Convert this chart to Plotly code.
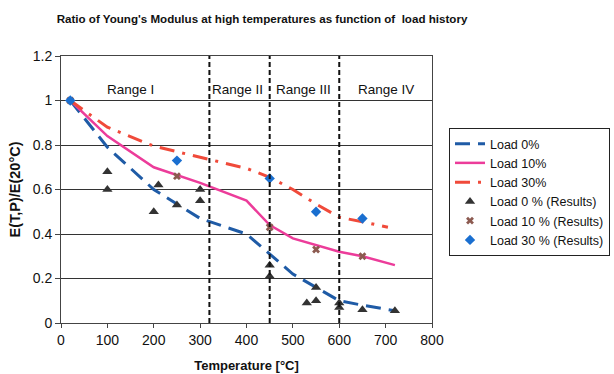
import plotly.graph_objects as go

# Model curves (temperature in °C, ratio E(T,P)/E(20°C))
temp_model = [20, 100, 200, 300, 400, 450, 500, 550, 600, 650, 720]
load0 = [1.0, 0.79, 0.60, 0.47, 0.40, 0.31, 0.22, 0.16, 0.10, 0.08, 0.055]
load10 = [1.0, 0.84, 0.70, 0.63, 0.55, 0.44, 0.38, 0.35, 0.32, 0.30, 0.26]
temp_model30 = [20, 100, 200, 300, 400, 450, 500, 550, 600, 650, 705]
load30 = [1.0, 0.88, 0.795, 0.745, 0.695, 0.655, 0.60, 0.535, 0.475, 0.455, 0.43]

# Test results
res0_t = [100, 100, 200, 210, 250, 300, 300, 450, 450, 530, 550, 550, 600, 600, 650, 720]
res0_v = [0.68, 0.60, 0.50, 0.62, 0.53, 0.60, 0.55, 0.26, 0.21, 0.09, 0.10, 0.16, 0.09, 0.07, 0.06, 0.055]
res10_t = [20, 250, 450, 550, 650]
res10_v = [1.0, 0.66, 0.43, 0.33, 0.30]
res30_t = [20, 250, 450, 550, 650]
res30_v = [1.0, 0.73, 0.65, 0.50, 0.47]

# Range boundaries and labels
range_bounds = [320, 450, 600]
range_labels = ["Range I", "Range II", "Range III", "Range IV"]
range_label_x = [150, 380, 522, 700]
range_label_y = 1.05

fig = go.Figure()
fig.add_trace(go.Scatter(x=temp_model, y=load0, mode="lines", name="Load 0%",
                         line=dict(color="#1f5ba6", width=3, dash="15px,8px")))
fig.add_trace(go.Scatter(x=temp_model, y=load10, mode="lines", name="Load 10%",
                         line=dict(color="#ec3c9a", width=2.5)))
fig.add_trace(go.Scatter(x=temp_model30, y=load30, mode="lines", name="Load 30%",
                         line=dict(color="#f04a3a", width=3, dash="15px,8px,3px,8px")))
fig.add_trace(go.Scatter(x=res0_t, y=res0_v, mode="markers", name="Load 0 % (Results)",
                         marker=dict(symbol="triangle-up", size=9, color="#333333")))
fig.add_trace(go.Scatter(x=res10_t, y=res10_v, mode="markers", name="Load 10 % (Results)",
                         marker=dict(symbol="x", size=7, color="#8c5a50")))
fig.add_trace(go.Scatter(x=res30_t, y=res30_v, mode="markers", name="Load 30 % (Results)",
                         marker=dict(symbol="diamond", size=8, color="#1a6fd0")))

for xb in range_bounds:
    fig.add_shape(type="line", x0=xb, x1=xb, y0=0, y1=1.2, xref="x", yref="y",
                  line=dict(color="#111111", width=2, dash="5px,3px"))

for txt, xl in zip(range_labels, range_label_x):
    fig.add_annotation(x=xl, y=range_label_y, text=txt, showarrow=False,
                       font=dict(size=13.5, color="#111111"))

font_family = "Liberation Sans, Arial, sans-serif"
W, H = 614, 374
plot_l, plot_r, plot_t, plot_b = 61, 432, 56, 323

fig.update_layout(
    width=W, height=H,
    margin=dict(l=plot_l, r=W - plot_r, t=plot_t, b=H - plot_b),
    paper_bgcolor="white", plot_bgcolor="white",
    font=dict(family=font_family, size=14, color="#111111"),
    title=dict(text="<b>Ratio of Young's Modulus at high temperatures as function of  load history</b>",
               x=262 / W, xanchor="center", y=1 - 19 / H, yanchor="middle",
               font=dict(size=11.6)),
    legend=dict(xref="container", yref="container",
                x=449 / W, xanchor="left", y=1 - 128 / H, yanchor="top",
                bordercolor="#222222", borderwidth=1, bgcolor="white",
                font=dict(size=12.5), itemwidth=30, tracegroupgap=0),
    showlegend=True,
)
fig.update_xaxes(range=[0, 800], dtick=100, tick0=0, showgrid=False, automargin=False,
                 showline=True, linecolor="#444444", mirror=True,
                 ticks="outside", ticklen=4, tickcolor="#444444",
                 tickfont=dict(size=14),
                 title=dict(text="<b>Temperature [°C]</b>", font=dict(size=13), standoff=14),
                 zeroline=False)
fig.update_yaxes(range=[0, 1.2], dtick=0.2, tick0=0, showgrid=True, gridcolor="#333333",
                 gridwidth=1, showline=True, linecolor="#444444", mirror=True, automargin=False,
                 ticks="outside", ticklen=5, tickcolor="#444444",
                 tickfont=dict(size=14),
                 title=dict(text="<b>E(T,P)/E(20°C)</b>", font=dict(size=14.5), standoff=8),
                 zeroline=False)

fig.write_html("out.html")
